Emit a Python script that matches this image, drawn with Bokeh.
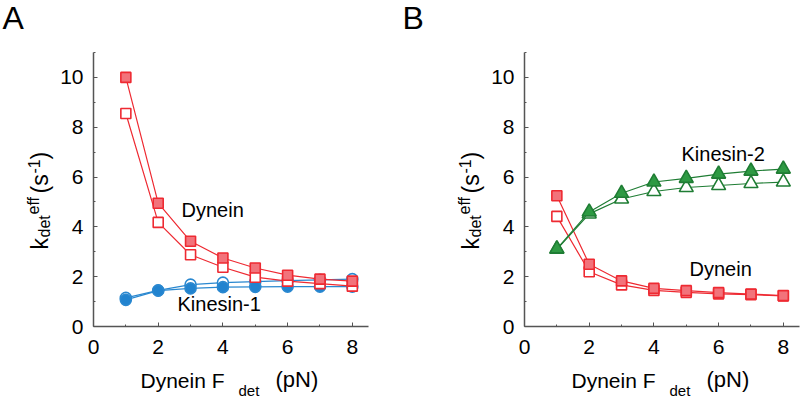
import math
from bokeh.plotting import figure
from bokeh.layouts import row, column
from bokeh.models import FixedTicker, Label, Range1d
from bokeh.embed import file_html
from bokeh.resources import INLINE

# ---------------- data ----------------
force = [1, 2, 3, 4, 5, 6, 7, 8]

a_dyn_filled = [10.0, 4.95, 3.42, 2.75, 2.35, 2.06, 1.90, 1.82]
a_dyn_open = [8.55, 4.18, 2.88, 2.38, 1.98, 1.82, 1.72, 1.62]
a_kin_open = [1.15, 1.45, 1.68, 1.76, 1.80, 1.84, 1.87, 1.90]
a_kin_filled = [1.07, 1.44, 1.53, 1.58, 1.59, 1.60, 1.60, 1.60]

b_dyn_filled = [5.25, 2.50, 1.83, 1.53, 1.44, 1.36, 1.30, 1.24]
b_dyn_open = [4.42, 2.20, 1.67, 1.45, 1.37, 1.31, 1.28, 1.23]
b_kin_filled = [3.12, 4.60, 5.35, 5.80, 5.95, 6.12, 6.24, 6.32]
b_kin_open = [3.10, 4.52, 5.12, 5.42, 5.58, 5.66, 5.74, 5.80]

x_ticks = [0, 2, 4, 6, 8]
x_minor = [1, 3, 5, 7]
y_ticks = [0, 2, 4, 6, 8, 10]
y_minor = [1, 3, 5, 7, 9, 11]

FONT = "Liberation Sans"
RED = "#ee2a32"
RED_FILL = "#f2737b"
BLUE = "#2a88d0"
BLUE_FILL = "#2183cf"
GREEN = "#1f7d34"
GREEN_FILL = "#2e9a43"
AXIS = "#555555"

STRIP_H = 40      # top strip holding the panel letter
TOP = 52          # frame top (page px)
FH = 274          # frame height
FW = 275          # frame width
XMAX = 8.5
YMAX = 11.0
BOTTOM_B = 40     # border below frame for tick labels
PLOT_H = (TOP - STRIP_H) + FH + BOTTOM_B
LAB_H = 400 - STRIP_H - PLOT_H
AX_BORDER = 39    # left border inside plot figure for tick labels
FRAME_BOTTOM = TOP + FH
MID = 0.347       # distance baseline -> middle of text box, in em


def make_plot(width):
    p = figure(width=width, height=PLOT_H, output_backend="svg", toolbar_location=None,
               title=None,
               x_range=Range1d(0, XMAX), y_range=Range1d(0, YMAX),
               min_border_left=AX_BORDER, min_border_right=width - AX_BORDER - FW,
               min_border_top=TOP - STRIP_H, min_border_bottom=BOTTOM_B)
    p.outline_line_color = None
    p.grid.visible = False
    p.xaxis.ticker = FixedTicker(ticks=x_ticks, minor_ticks=x_minor)
    p.yaxis.ticker = FixedTicker(ticks=y_ticks, minor_ticks=y_minor)
    for ax in (p.xaxis, p.yaxis):
        ax.axis_line_color = AXIS
        ax.axis_line_width = 1.5
        ax.major_tick_line_color = AXIS
        ax.minor_tick_line_color = AXIS
        ax.major_tick_in = 4
        ax.major_tick_out = 0
        ax.minor_tick_in = 2
        ax.minor_tick_out = 0
        ax.major_label_text_font = FONT
        ax.major_label_text_font_size = "21px"
        ax.major_label_text_color = "black"
    p.xaxis.major_label_standoff = 13
    p.yaxis.major_label_standoff = 10
    return p


def make_text_fig(width, height):
    t = figure(width=width, height=height, output_backend="svg", toolbar_location=None,
               title=None,
               x_range=Range1d(0, 1), y_range=Range1d(0, 1),
               x_axis_location=None, y_axis_location=None,
               min_border=0, min_border_left=0, min_border_right=0,
               min_border_top=0, min_border_bottom=0)
    t.outline_line_color = None
    t.grid.visible = False
    return t


def series(p, y, kind, line, fill, size):
    p.line(force, y, line_color=line, line_width=1.2)
    p.scatter(force, y, marker=kind, size=size, line_color=line, fill_color=fill,
              line_width=1.6)


class Placer:
    """Place texts by the page position of their baseline start (px, py)."""

    def __init__(self, p, fx0, fy_bottom):
        self.p, self.fx0, self.fyb = p, fx0, fy_bottom

    def put(self, px, py, text, size, angle=0.0):
        d = MID * size
        if angle:
            px = px - d
        else:
            py = py - d
        self.p.add_layout(Label(x=px - self.fx0, y=self.fyb - py,
                                x_units="screen", y_units="screen",
                                text=text, text_font=FONT,
                                text_font_size=f"{size}px", text_color="black",
                                angle=angle, text_align="left",
                                text_baseline="middle"))


def x_label(pl, ax0):
    pl.put(ax0 + 47, 387, "Dynein F", 21)
    pl.put(ax0 + 145, 395, "det", 15)
    pl.put(ax0 + 182, 387, "(pN)", 22)


def y_label(pl, ax0):
    a = math.pi / 2
    bx = ax0 - 46
    pl.put(bx, 249, "k", 23, a)
    pl.put(bx + 3, 237, "det", 16, a)
    pl.put(bx - 8, 214, "eff", 16, a)
    pl.put(bx, 193, "(s", 23, a)
    pl.put(bx - 8, 173, "-1", 16, a)
    pl.put(bx, 159, ")", 23, a)


def panel(page_left, ylab_w, letter, fill_fn, notes):
    plot_w = 400 - ylab_w
    ax0 = page_left + ylab_w + AX_BORDER   # page x of the y axis
    strip = make_text_fig(400, STRIP_H)
    yfig = make_text_fig(ylab_w, PLOT_H)
    xfig = make_text_fig(400, LAB_H)
    p = make_plot(plot_w)
    fill_fn(p)
    Placer(strip, page_left, STRIP_H).put(page_left + 2, 29, letter, 32)
    y_label(Placer(yfig, page_left, FRAME_BOTTOM), ax0)
    x_label(Placer(xfig, page_left, 400), ax0)
    plp = Placer(p, ax0, FRAME_BOTTOM)
    for (px, py, txt) in notes:
        plp.put(px, py, txt, 20)
    return column(strip, row(yfig, p), xfig)


def fill_a(p):
    series(p, a_kin_open, "circle", BLUE, "white", 11)
    series(p, a_kin_filled, "circle", BLUE, BLUE_FILL, 11)
    series(p, a_dyn_open, "square", RED, "white", 10)
    series(p, a_dyn_filled, "square", RED, RED_FILL, 10)


def fill_b(p):
    series(p, b_dyn_open, "square", RED, "white", 10)
    series(p, b_dyn_filled, "square", RED, RED_FILL, 10)
    series(p, b_kin_open, "triangle", GREEN, "white", 14)
    series(p, b_kin_filled, "triangle", GREEN, GREEN_FILL, 14)


col_a = panel(0, 54, "A", fill_a, [(181, 216, "Dynein"), (177, 310, "Kinesin-1")])
col_b = panel(400, 85, "B", fill_b, [(681, 160, "Kinesin-2"), (689, 275, "Dynein")])

layout = row(col_a, col_b)
open("out.html", "w").write(file_html(layout, INLINE))
